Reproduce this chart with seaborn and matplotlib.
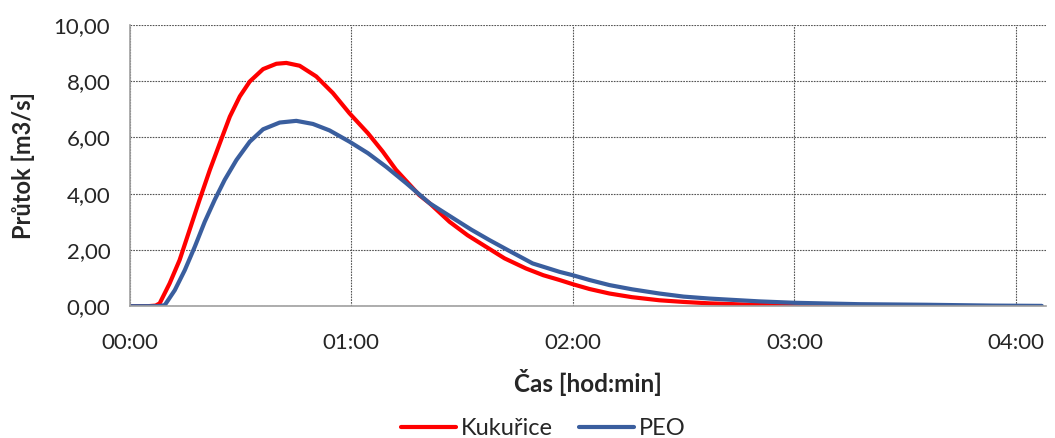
import pandas as pd
import seaborn as sns
import matplotlib.pyplot as plt
from matplotlib.ticker import FuncFormatter, MultipleLocator

# time in minutes, flow in m3/s
kuk_t = [0, 5, 7, 8.1, 10.8, 13.5, 16.2, 18.9, 21.7, 24.4, 27.1, 29.8, 32.5, 36.1, 39.7,
         42.4, 46.0, 50.5, 55.0, 59.5, 64.5, 68.5, 72.1, 78.4, 81.2, 86.6, 91.5, 96.5,
         101.5, 107.3, 112, 116.4, 120, 124.5, 129.9, 136, 143.4, 150, 157, 170.5, 188.5,
         208.4]
kuk_v = [0, 0, 0.02, 0.10, 0.81, 1.64, 2.71, 3.78, 4.85, 5.80, 6.74, 7.46, 7.99, 8.43, 8.62,
         8.65, 8.55, 8.17, 7.58, 6.86, 6.15, 5.50, 4.85, 3.95, 3.66, 3.0, 2.52, 2.11,
         1.70, 1.34, 1.10, 0.93, 0.78, 0.61, 0.45, 0.32, 0.21, 0.15, 0.10, 0.04, 0.01,
         0.0]

peo_t = [0, 8, 9.5, 12.2, 14.9, 17.6, 20.3, 23.0, 25.7, 28.9, 32.5, 36.1, 40.6, 45.1, 49.6,
         54.1, 59.5, 64.5, 69.5, 74.9, 81.2, 88.4, 92.5, 97.4, 103, 109.1, 116.4, 120,
         124.5, 129.9, 136, 143.4, 150, 157, 170.5, 180, 197.6, 215.6, 233.6, 247]
peo_v = [0, 0, 0.04, 0.57, 1.28, 2.11, 3.0, 3.78, 4.49, 5.20, 5.85, 6.29, 6.53, 6.59, 6.48,
         6.25, 5.85, 5.44, 4.95, 4.37, 3.66, 3.06, 2.72, 2.35, 1.95, 1.52, 1.22, 1.10,
         0.93, 0.75, 0.60, 0.45, 0.34, 0.27, 0.17, 0.12, 0.07, 0.05, 0.02, 0.01]

series_names = ["Kukuřice", "PEO"]
colors = {"Kukuřice": "#FF0000", "PEO": "#3A5E9E"}

df = pd.concat([
    pd.DataFrame({"cas": kuk_t, "prutok": kuk_v, "serie": series_names[0]}),
    pd.DataFrame({"cas": peo_t, "prutok": peo_v, "serie": series_names[1]}),
], ignore_index=True)

sns.set_style("white")
plt.rcParams["font.family"] = ["Lato", "DejaVu Sans"]

fig = plt.figure(figsize=(10.55, 4.38), dpi=100)
ax = fig.add_axes([0.123, 0.301, 0.868, 0.642])

sns.lineplot(data=df, x="cas", y="prutok", hue="serie", palette=colors,
             linewidth=3, ax=ax, legend=False, sort=False)

ax.set_xlim(0, 248)
ax.set_ylim(0, 10)
ax.xaxis.set_major_locator(MultipleLocator(60))
ax.yaxis.set_major_locator(MultipleLocator(2))
ax.xaxis.set_major_formatter(FuncFormatter(lambda v, p: f"{int(v // 60):02d}:{int(v % 60):02d}"))
ax.yaxis.set_major_formatter(FuncFormatter(lambda v, p: f"{v:.2f}".replace(".", ",")))

ax.grid(True, color="#555555", linestyle=(0, (1.5, 1)), linewidth=0.8)
ax.set_axisbelow(True)
for s in ["top", "right"]:
    ax.spines[s].set_visible(False)
for s in ["left", "bottom"]:
    ax.spines[s].set_color("#A0A0A0")
    ax.spines[s].set_linewidth(1.2)
ax.tick_params(axis="both", direction="out", length=6, width=1, color="#A0A0A0",
               labelsize=16, pad=8)
ax.tick_params(axis="x", pad=13)

ax.set_xlabel("Čas [hod:min]", fontsize=17.5, fontweight="bold")
ax.set_ylabel("Průtok [m3/s]", fontsize=17, fontweight="bold")
ax.xaxis.set_label_coords(0.5, -0.225)
ax.yaxis.set_label_coords(-0.104, 0.5)

handles = [plt.Line2D([], [], color=colors[n], lw=3) for n in series_names]
fig.legend(handles, series_names, loc="center", bbox_to_anchor=(0.515, 0.022), ncol=2,
           frameon=False, fontsize=17, handlelength=2.35, columnspacing=1.1, handletextpad=0.2)

fig.savefig("out.png", dpi=100)
